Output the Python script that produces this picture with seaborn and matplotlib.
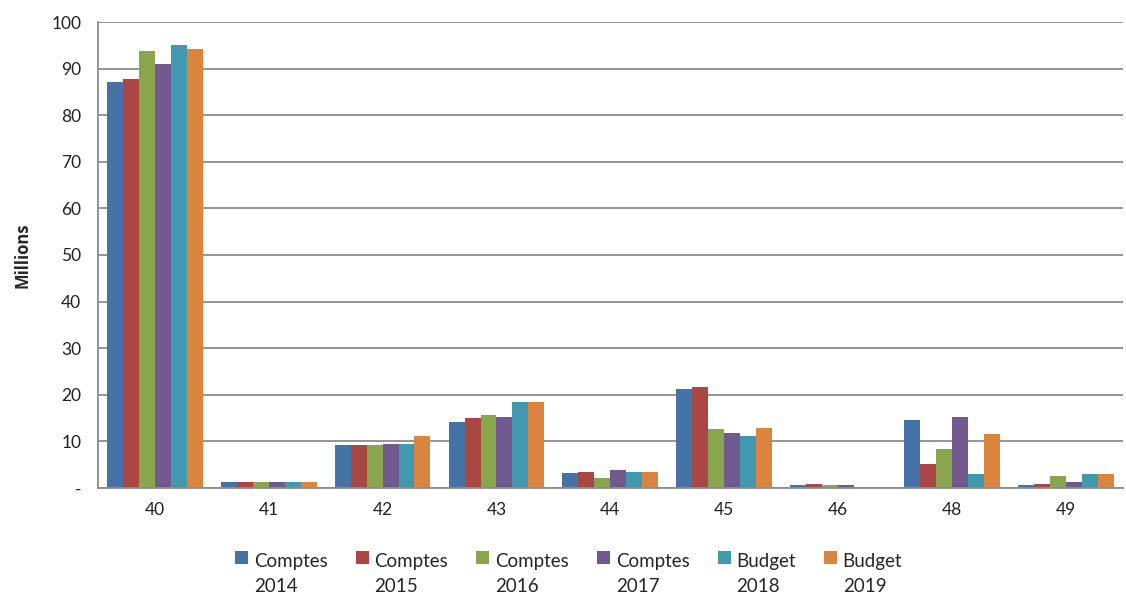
import matplotlib
matplotlib.use("Agg")
import matplotlib.pyplot as plt
from matplotlib.patches import Rectangle
from matplotlib.legend_handler import HandlerPatch
import seaborn as sns
import pandas as pd
import numpy as np

categories = ["40", "41", "42", "43", "44", "45", "46", "48", "49"]
series_names = ["Comptes\n2014", "Comptes\n2015", "Comptes\n2016", "Comptes\n2017", "Budget\n2018", "Budget\n2019"]
comptes_2014 = [87.1, 1.3, 9.1, 14.2, 3.2, 21.2, 0.6, 14.6, 0.7]
comptes_2015 = [87.8, 1.3, 9.2, 15.0, 3.4, 21.7, 0.8, 5.2, 0.9]
comptes_2016 = [93.8, 1.3, 9.2, 15.7, 2.1, 12.6, 0.5, 8.3, 2.5]
comptes_2017 = [91.0, 1.3, 9.4, 15.2, 3.9, 11.7, 0.5, 15.1, 1.2]
budget_2018 = [95.2, 1.3, 9.4, 18.4, 3.4, 11.2, 0.0, 3.0, 3.0]
budget_2019 = [94.2, 1.3, 11.2, 18.4, 3.4, 12.8, 0.0, 11.5, 3.0]
y_ticks = [0, 10, 20, 30, 40, 50, 60, 70, 80, 90, 100]
y_tick_labels = ["-", "10", "20", "30", "40", "50", "60", "70", "80", "90", "100"]

colors = ["#4572A7", "#AA4643", "#89A54E", "#71588F", "#4198AF", "#DB843D"]

all_series = [comptes_2014, comptes_2015, comptes_2016, comptes_2017, budget_2018, budget_2019]
rows = []
for name, vals in zip(series_names, all_series):
    for c, v in zip(categories, vals):
        rows.append({"cat": c, "series": name, "value": v})
df = pd.DataFrame(rows)

sns.set_style("white")
plt.rcParams["font.family"] = ["Lato", "DejaVu Sans"]

fig = plt.figure(figsize=(11.26, 6.0), dpi=100)
ax = fig.add_axes([0.087, 0.187, 0.91, 0.776])

sns.barplot(data=df, x="cat", y="value", hue="series", order=categories,
            hue_order=series_names, palette=colors, width=0.84,
            saturation=1, ax=ax, legend=True, edgecolor="none")

ax.set_ylim(0, 100)
ax.set_xlim(-0.5, len(categories) - 0.5)
ax.set_yticks(y_ticks)
ax.set_yticklabels(y_tick_labels, fontsize=12.5, color="#222222")
ax.yaxis.grid(True, color="#8c8c8c", linewidth=1.3)
ax.set_axisbelow(True)
ax.set_xlabel("")
ax.set_ylabel("Millions", fontsize=12, fontweight="bold", labelpad=14,
              family=["Open Sans", "DejaVu Sans"])

for s in ["top", "right"]:
    ax.spines[s].set_visible(False)
for s in ["left", "bottom"]:
    ax.spines[s].set_color("#8c8c8c")
    ax.spines[s].set_linewidth(1.3)

ax.tick_params(axis="y", which="major", length=6, color="#8c8c8c", width=1.3, pad=6)
ax.tick_params(axis="x", which="major", length=0, pad=10, labelsize=12.5, labelcolor="#222222")
ax.set_xticks(np.arange(-0.5, len(categories), 1.0), minor=True)
ax.tick_params(axis="x", which="minor", length=6, color="#8c8c8c", width=1.3)


def top_patch(legend, orig_handle, xdescent, ydescent, width, height, fontsize):
    return Rectangle((-xdescent, -ydescent + 0.9 * fontsize), width, height)


handles, labels = ax.get_legend_handles_labels()
ax.legend_.remove()
leg = fig.legend(handles, labels, loc="lower center", bbox_to_anchor=(0.505, -0.02),
                 ncol=6, frameon=False, fontsize=13.5, handlelength=0.7, handleheight=0.7,
                 handletextpad=0.3, columnspacing=1.5,
                 handler_map={h: HandlerPatch(patch_func=top_patch) for h in handles})
for t in leg.get_texts():
    t.set_linespacing(1.6)

fig.savefig("out.png", dpi=100)
